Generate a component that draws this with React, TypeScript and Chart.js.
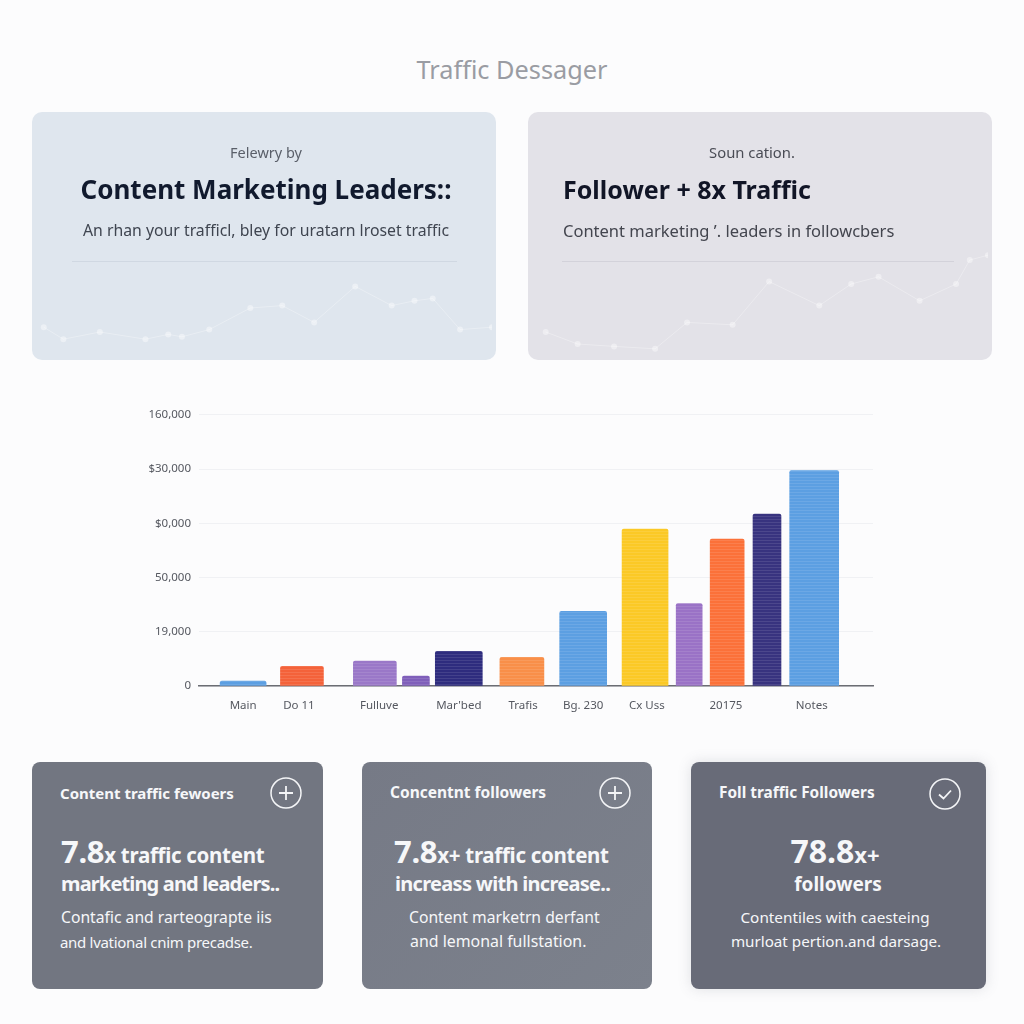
import React, { useEffect, useRef } from 'react';
import Chart from 'chart.js/auto';

// bar chart data
const barLabels = ['Main', 'Do 11', 'Fulluve', "Mar'bed", 'Trafis', 'Bg. 230', 'Cx Uss', '20175', 'Notes'];
const barLabelSlots = [0.72, 1.63, 2.94, 4.24, 5.29, 6.27, 7.31, 8.6, 10.0];
const barSlots = [0.72, 1.68, 2.87, 3.54, 4.24, 5.27, 6.27, 7.28, 8.0, 8.62, 9.27, 10.04];
const barValues = [1800, 7300, 9200, 3700, 12800, 10600, 27500, 57900, 30400, 54200, 63400, 79500];
const yTickLabels = ['0', '19,000', '50,000', '$0,000', '$30,000', '160,000'];

// style tables
const barWidths = [46, 43, 43, 27, 47, 44, 47, 46, 26, 34, 28, 49];
const barColors = ['#5c9fe2', '#f4623a', '#9a78c8', '#7f5fba', '#2e2c7e', '#f98f49', '#5c9fe2', '#fbc926', '#9a72c6', '#fb7139', '#38337f', '#5c9fe2'];

// faint trend lines behind the top cards
const trendOneX = [1.7, 6, 14, 24, 29, 32, 38, 47, 54, 61, 70, 78, 83, 87, 93, 100];
const trendOneY = [12, 7, 10, 7, 9, 8, 11, 20, 21, 14, 29, 21, 23, 24, 11, 12];
const trendTwoX = [3, 10, 18, 27, 34, 44, 52, 63, 70, 76, 85, 93, 96, 100];
const trendTwoY = [10, 5, 4, 3, 14, 13, 31, 21, 30, 33, 23, 30, 40, 42];

const FONT = '"Noto Sans", sans-serif';

function stripes(color: string) {
  const c = document.createElement('canvas');
  c.width = 1;
  c.height = 3;
  const ctx = c.getContext('2d')!;
  ctx.fillStyle = color;
  ctx.fillRect(0, 0, 1, 3);
  ctx.fillStyle = 'rgba(255,255,255,0.1)';
  ctx.fillRect(0, 2, 1, 1);
  return ctx.createPattern(c, 'repeat')!;
}

const BarChart: React.FC = () => {
  const ref = useRef<HTMLCanvasElement | null>(null);

  useEffect(() => {
    if (!ref.current) return;
    const chart = new Chart(ref.current, {
      type: 'bar',
      data: {
        datasets: barValues.map((v, i) => ({
          data: [{ x: barSlots[i], y: v }],
          backgroundColor: stripes(barColors[i]),
          barThickness: barWidths[i],
          grouped: false,
          borderRadius: { topLeft: 2, topRight: 2, bottomLeft: 0, bottomRight: 0 },
          borderSkipped: false,
        })) as any,
      },
      options: {
        animation: false,
        responsive: false,
        layout: { padding: { top: 12, right: 17, left: 0, bottom: 0 } },
        plugins: { legend: { display: false }, tooltip: { enabled: false } },
        scales: {
          x: {
            type: 'linear',
            min: 0,
            max: 11,
            offset: false,
            grid: { display: false },
            border: { color: '#6b6d73', width: 1.5 },
            afterFit: (s: any) => { s.height = 34; },
            afterBuildTicks: (s: any) => { s.ticks = barLabelSlots.map((value) => ({ value })); },
            ticks: {
              autoSkip: false,
              maxRotation: 0,
              padding: 5,
              color: '#555860',
              font: { family: FONT, size: 11.5 },
              callback: (v: any) => barLabels[barLabelSlots.indexOf(v)],
            },
          },
          y: {
            min: 0,
            max: 100000,
            afterFit: (s: any) => { s.width = 59; },
            grid: { color: '#f0f1f4', drawTicks: false, lineWidth: 1 },
            border: { display: false },
            ticks: {
              stepSize: 20000,
              padding: 8,
              color: '#555860',
              font: { family: FONT, size: 11.5 },
              callback: (v: any) => yTickLabels[Math.round(v / 20000)],
            },
          },
        },
      },
    });
    return () => chart.destroy();
  }, []);

  return <canvas ref={ref} width={750} height={320} style={{ position: 'absolute', left: 140, top: 400, width: 750, height: 320 }} />;
};

const Trend: React.FC<{ xs: number[]; ys: number[] }> = ({ xs, ys }) => {
  const ref = useRef<HTMLCanvasElement | null>(null);

  useEffect(() => {
    if (!ref.current) return;
    const chart = new Chart(ref.current, {
      type: 'scatter',
      data: {
        datasets: [{
          data: xs.map((x, i) => ({ x, y: ys[i] })),
          showLine: true,
          borderColor: 'rgba(255,255,255,0.3)',
          borderWidth: 1,
          pointRadius: 3,
          pointBackgroundColor: 'rgba(255,255,255,0.4)',
          pointBorderWidth: 0,
        }],
      },
      options: {
        animation: false,
        responsive: false,
        layout: { padding: 0 },
        plugins: { legend: { display: false }, tooltip: { enabled: false } },
        scales: {
          x: { display: false, min: 0, max: 100 },
          y: { display: false, min: 0, max: 100 },
        },
      },
    });
    return () => chart.destroy();
  }, [xs, ys]);

  return <canvas ref={ref} width={464} height={248} style={{ position: 'absolute', left: 0, top: 0, width: 464, height: 248 }} />;
};

type TxtProps = {
  x: number;
  y: number;
  size: number;
  color: string;
  bold?: boolean;
  center?: boolean;
  ls?: number;
  children: React.ReactNode;
};

// text placed by its vertical middle
const Txt: React.FC<TxtProps> = ({ x, y, size, color, bold, center, ls, children }) => (
  <div
    style={{
      position: 'absolute',
      left: x,
      top: y,
      transform: center ? 'translate(-50%,-50%)' : 'translateY(-50%)',
      fontFamily: FONT,
      fontSize: size,
      fontWeight: bold ? 700 : 400,
      letterSpacing: ls,
      color,
      whiteSpace: 'nowrap',
      lineHeight: 1,
    }}
  >
    {children}
  </div>
);

const Icon: React.FC<{ x: number; y: number; check?: boolean }> = ({ x, y, check }) => (
  <svg width={34} height={34} style={{ position: 'absolute', left: x - 17, top: y - 17 }}>
    <circle cx={17} cy={17} r={15} fill="none" stroke="#f4f5f7" strokeWidth={1.5} />
    {check
      ? <path d="M11 17.5 L15.5 21.5 L23 13.5" fill="none" stroke="#f4f5f7" strokeWidth={1.8} />
      : <path d="M17 10 V24 M10 17 H24" fill="none" stroke="#f4f5f7" strokeWidth={1.8} />}
  </svg>
);

const Box: React.FC<{ x: number; y: number; w: number; h: number; r: number; bg: string; shadow?: string; children?: React.ReactNode }> = ({ x, y, w, h, r, bg, shadow, children }) => (
  <div style={{ position: 'absolute', left: x, top: y, width: w, height: h, borderRadius: r, background: bg, boxShadow: shadow, overflow: 'hidden' }}>
    {children}
  </div>
);

const WHITE = '#f6f7f9';

const App: React.FC = () => (
  <div style={{ position: 'absolute', left: 0, top: 0, width: 1024, height: 1024, background: '#fcfcfd', overflow: 'hidden' }}>
    <Txt x={512} y={70} size={25.3} color="#9a9ca3" center>Traffic Dessager</Txt>

    <Box x={32} y={112} w={464} h={248} r={10} bg="#dfe6ee"><Trend xs={trendOneX} ys={trendOneY} /></Box>
    <Txt x={266} y={152} size={14.5} color="#5a5f69" center>Felewry by</Txt>
    <Txt x={266} y={189} size={26} color="#111a2e" bold center>Content Marketing Leaders::</Txt>
    <Txt x={266} y={231} size={15.8} color="#3f4550" center>An rhan your trafficl, bley for uratarn lroset traffic</Txt>
    <div style={{ position: 'absolute', left: 72, top: 261, width: 385, height: 1, background: '#d0d8e2' }} />

    <Box x={528} y={112} w={464} h={248} r={10} bg="#e3e2e8"><Trend xs={trendTwoX} ys={trendTwoY} /></Box>
    <Txt x={752} y={152} size={14.8} color="#4a4c55" center>Soun cation.</Txt>
    <Txt x={563} y={189} size={25} color="#111526" bold>Follower + 8x Traffic</Txt>
    <Txt x={563} y={231} size={16.5} color="#43454e">Content marketing ʼ. leaders in followcbers</Txt>
    <div style={{ position: 'absolute', left: 562, top: 261, width: 392, height: 1, background: '#d3d2da' }} />

    <BarChart />

    <Box x={32} y={762} w={291} h={227} r={8} bg="#727681" />
    <Txt x={60} y={793} size={15} color={WHITE} bold>Content traffic fewoers</Txt>
    <Icon x={286} y={793} />
    <Txt x={61} y={851} size={20.5} ls={-0.3} color={WHITE} bold><span style={{ fontSize: 31 }}>7.8</span>x traffic content</Txt>
    <Txt x={61} y={884} size={20} ls={-0.85} color={WHITE} bold>marketing and leaders..</Txt>
    <Txt x={61} y={918} size={15.7} color={WHITE}>Contafic and rarteograpte iis</Txt>
    <Txt x={60} y={942} size={15} ls={-0.3} color={WHITE}>and lvational cnim precadse.</Txt>

    <Box x={362} y={762} w={290} h={227} r={8} bg="linear-gradient(135deg,#767a86,#7c818c)" />
    <Txt x={390} y={793} size={15.5} color={WHITE} bold>Concentnt followers</Txt>
    <Icon x={615} y={793} />
    <Txt x={394} y={851} size={20.5} ls={-0.3} color={WHITE} bold><span style={{ fontSize: 31 }}>7.8</span>x+ traffic content</Txt>
    <Txt x={395} y={884} size={20} ls={-0.7} color={WHITE} bold>increass with increase..</Txt>
    <Txt x={409} y={918} size={15.7} color={WHITE}>Content marketrn derfant</Txt>
    <Txt x={410} y={942} size={15.9} color={WHITE}>and lemonal fullstation.</Txt>

    <Box x={691} y={762} w={295} h={227} r={8} bg="#686b78" shadow="0 0 14px rgba(90,95,110,0.18)" />
    <Txt x={719} y={793} size={15.4} color={WHITE} bold>Foll traffic Followers</Txt>
    <Icon x={945} y={794} check />
    <Txt x={835} y={851} size={22} color={WHITE} bold center><span style={{ fontSize: 32 }}>78.8</span>x+</Txt>
    <Txt x={838} y={884} size={19} color={WHITE} bold center>followers</Txt>
    <Txt x={835} y={918} size={15.3} color={WHITE} center>Contentiles with caesteing</Txt>
    <Txt x={836} y={942} size={15.2} color={WHITE} center>murloat pertion.and darsage.</Txt>
  </div>
);

export default App;
